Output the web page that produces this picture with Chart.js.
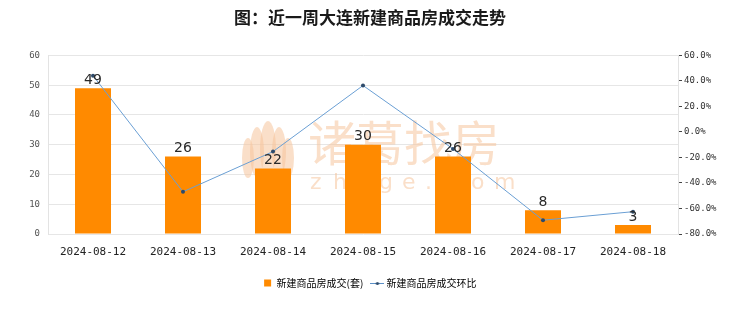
<!DOCTYPE html>
<html>
<head>
<meta charset="utf-8">
<script src="https://cdn.jsdelivr.net/npm/chart.js@4/dist/chart.umd.min.js"></script>
<style>
  html, body { margin: 0; padding: 0; background: #ffffff; }
  #wrap { width: 740px; height: 312px; }
</style>
</head>
<body>
<div id="wrap"><canvas id="chart" width="740" height="312"></canvas></div>
<script>
// Data
const dates = ['2024-08-12', '2024-08-13', '2024-08-14', '2024-08-15', '2024-08-16', '2024-08-17', '2024-08-18'];
const deals = [49, 26, 22, 30, 26, 8, 3];
const dealsChange = [44.1, -46.9, -15.4, 36.4, -13.3, -69.2, -62.5];

const titleText = '图：近一周大连新建商品房成交走势';
const barLabel = '新建商品房成交(套)';
const lineLabel = '新建商品房成交环比';

// Legend marker for the line series: short line with a dot
const lineMarker = document.createElement('canvas');
lineMarker.width = 14;
lineMarker.height = 6;
(function () {
    const c = lineMarker.getContext('2d');
    c.strokeStyle = '#5b8fc7';
    c.lineWidth = 1;
    c.beginPath();
    c.moveTo(0, 3.5);
    c.lineTo(14, 3.5);
    c.stroke();
    c.fillStyle = '#2d4a6a';
    c.beginPath();
    c.arc(7, 3.5, 1.6, 0, Math.PI * 2);
    c.fill();
})();

// Faint watermark behind the bars
const watermark = {
    id: 'watermark',
    beforeDatasetsDraw(chart) {
        const ctx = chart.ctx;
        ctx.save();
        ctx.fillStyle = 'rgba(246, 196, 156, 0.55)';
        // logo petals
        const cx = 268, cy = 150;
        [[-20, 8, 6, 20], [-11, 2, 7, 25], [0, -1, 8, 28], [11, 2, 7, 25], [20, 8, 6, 20]].forEach(p => {
            ctx.beginPath();
            ctx.ellipse(cx + p[0], cy + p[1], p[2], p[3], 0, 0, Math.PI * 2);
            ctx.fill();
        });
        ctx.font = '48px "Noto Sans CJK SC"';
        ctx.textBaseline = 'middle';
        ctx.textAlign = 'left';
        ctx.fillText('诸葛找房', 308, 143);
        ctx.font = '22px "DejaVu Sans"';
        'zhuge.com'.split('').forEach((ch, i) => {
            ctx.fillText(ch, 310 + i * 23, 183);
        });
        ctx.restore();
    }
};

// Value labels above the bars
const barValues = {
    id: 'barValues',
    afterDatasetsDraw(chart) {
        const ctx = chart.ctx;
        const meta = chart.getDatasetMeta(1);
        ctx.save();
        ctx.font = '14px "DejaVu Sans"';
        ctx.fillStyle = '#2a2a2a';
        ctx.textAlign = 'center';
        ctx.textBaseline = 'bottom';
        meta.data.forEach((bar, i) => {
            ctx.fillText(deals[i], bar.x, bar.y - 1);
        });
        ctx.restore();
    }
};

new Chart(document.getElementById('chart'), {
    data: {
        labels: dates,
        datasets: [
            {
                type: 'line',
                label: lineLabel,
                data: dealsChange,
                yAxisID: 'yRight',
                borderColor: '#6a9fd4',
                borderWidth: 1,
                pointRadius: 2,
                pointBackgroundColor: '#2d4a6a',
                pointBorderColor: '#2d4a6a',
                pointBorderWidth: 0,
                tension: 0,
                order: 0
            },
            {
                type: 'bar',
                label: barLabel,
                data: deals,
                yAxisID: 'y',
                backgroundColor: '#ff8a00',
                borderWidth: 0,
                categoryPercentage: 1,
                barPercentage: 0.4,
                order: 1
            }
        ]
    },
    options: {
        responsive: false,
        animation: false,
        layout: { padding: { left: 0, right: 0, top: 0, bottom: 14 } },
        plugins: {
            title: {
                display: true,
                text: titleText,
                color: '#1a1a1a',
                font: { family: '"Noto Sans CJK SC"', size: 17, weight: 'bold' },
                padding: { top: 7, bottom: 28 }
            },
            legend: {
                position: 'bottom',
                labels: {
                    color: '#222',
                    font: { family: '"Noto Sans CJK SC"', size: 10 },
                    usePointStyle: true,
                    boxWidth: 8,
                    boxHeight: 7,
                    padding: 10,
                    generateLabels(chart) {
                        return [
                            { text: barLabel, fillStyle: '#ff8a00', strokeStyle: '#ff8a00', lineWidth: 0, pointStyle: 'rect', datasetIndex: 1 },
                            { text: lineLabel, fillStyle: '#2d4a6a', strokeStyle: '#2d4a6a', lineWidth: 0, pointStyle: lineMarker, datasetIndex: 0 }
                        ];
                    }
                }
            },
            tooltip: { enabled: false }
        },
        scales: {
            x: {
                grid: { display: false },
                border: { display: false },
                ticks: {
                    color: '#222',
                    font: { family: '"DejaVu Sans Mono"', size: 11 },
                    padding: 4,
                    maxRotation: 0
                },
                afterFit(scale) { scale.height = 34; }
            },
            y: {
                position: 'left',
                min: 0,
                max: 60,
                grid: { color: '#e6e6e6', drawTicks: false },
                border: { color: '#e3e3e3' },
                ticks: {
                    stepSize: 10,
                    color: '#555',
                    font: { family: '"DejaVu Sans Mono"', size: 9 },
                    padding: 8
                },
                afterFit(scale) { scale.width = 48; }
            },
            yRight: {
                position: 'right',
                min: -80,
                max: 60,
                grid: { drawOnChartArea: false, drawTicks: true, tickLength: 4, color: '#444' },
                border: { color: '#e3e3e3' },
                ticks: {
                    stepSize: 10,
                    color: '#333',
                    font: { family: '"DejaVu Sans Mono"', size: 9 },
                    padding: 2,
                    callback: v => (v % 20 === 0 ? v.toFixed(1) + '%' : '')
                },
                afterFit(scale) { scale.width = 62; }
            }
        }
    },
    plugins: [watermark, barValues]
});
</script>
</body>
</html>
